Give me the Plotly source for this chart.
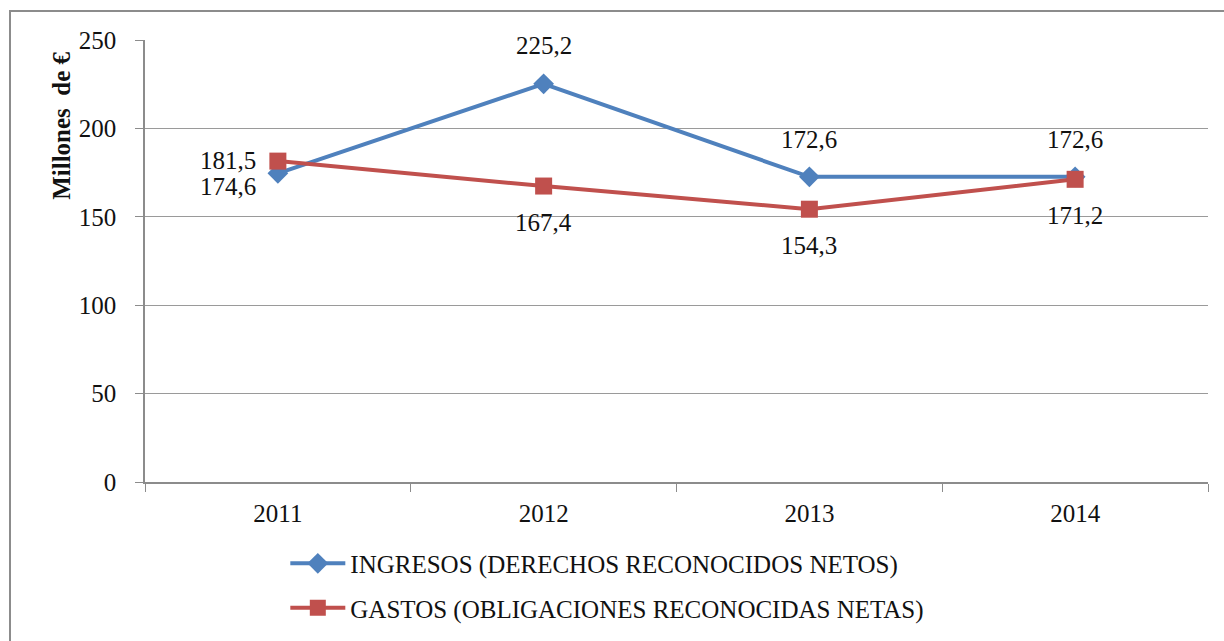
import plotly.graph_objects as go

years = ["2011", "2012", "2013", "2014"]
ingresos = [174.6, 225.2, 172.6, 172.6]
gastos = [181.5, 167.4, 154.3, 171.2]
ingresos_name = "INGRESOS (DERECHOS RECONOCIDOS NETOS)"
gastos_name = "GASTOS (OBLIGACIONES RECONOCIDAS NETAS)"
y_ticks = [0, 50, 100, 150, 200, 250]

# label offsets (pixels) relative to each point
ing_shift = [(-50, -13), (0, 38), (0, 37), (0, 37)]
gas_shift = [(-50, 1), (0, -36), (0, -36), (0, -36)]

BLUE = "#4F81BD"
RED = "#C0504D"
FONT = "Liberation Serif"

fig = go.Figure()
fig.add_trace(go.Scatter(
    x=years, y=ingresos, name=ingresos_name, mode="lines+markers",
    line=dict(color=BLUE, width=4),
    marker=dict(symbol="diamond", size=16, color=BLUE),
    legendgroup="a",
))
fig.add_trace(go.Scatter(
    x=years, y=gastos, name=gastos_name, mode="lines+markers",
    line=dict(color=RED, width=4),
    marker=dict(symbol="square", size=17, color=RED),
    legendgroup="b",
))

def fmt(v):
    return f"{v:.1f}".replace(".", ",")

# category axis: annotations are placed by category index
for vals, shifts in ((ingresos, ing_shift), (gastos, gas_shift)):
    for i, (yv, (dx, dy)) in enumerate(zip(vals, shifts)):
        fig.add_annotation(x=i, y=yv, text=fmt(yv), showarrow=False,
                           xshift=dx, yshift=dy,
                           font=dict(family=FONT, size=25, color="#111"))

fig.add_annotation(xref="paper", yref="paper", x=-0.078, y=0.806,
                   xanchor="center", yanchor="middle",
                   text="<b>Millones  de €</b>", textangle=-90, showarrow=False,
                   font=dict(family=FONT, size=25, color="#111"))

# outer chart border
fig.add_shape(type="rect", xref="paper", yref="paper",
              x0=-0.127, x1=1.06, y0=-0.6, y1=1.0655,
              line=dict(color="#8c8c8c", width=2), layer="below")

fig.update_layout(
    width=1224, height=641,
    margin=dict(l=145, r=16, t=40, b=158),
    paper_bgcolor="white", plot_bgcolor="white",
    font=dict(family=FONT, size=24, color="#111"),
    showlegend=True,
    legend=dict(x=0.132, xanchor="left", y=-0.13, yanchor="top",
                itemwidth=55, tracegroupgap=9,
                font=dict(family=FONT, size=25, color="#111"),
                bgcolor="rgba(0,0,0,0)"),
    xaxis=dict(type="category", range=[-0.5, 3.5], showline=True,
               linecolor="#8c8c8c", linewidth=1.5,
               ticks="outside", tickson="boundaries", ticklen=8, tickcolor="#8c8c8c",
               showgrid=False, ticklabelstandoff=8, tickangle=0,
               tickfont=dict(family=FONT, size=25, color="#111")),
    yaxis=dict(range=[0, 250], tickvals=y_ticks, showline=True, linecolor="#8c8c8c",
               linewidth=1.5, ticks="outside", ticklen=8, tickcolor="#8c8c8c",
               showgrid=True, gridcolor="#9a9a9a", gridwidth=1, zeroline=False,
               ticklabelstandoff=14,
               tickfont=dict(family=FONT, size=25, color="#111")),
)

fig.write_html("out.html")
